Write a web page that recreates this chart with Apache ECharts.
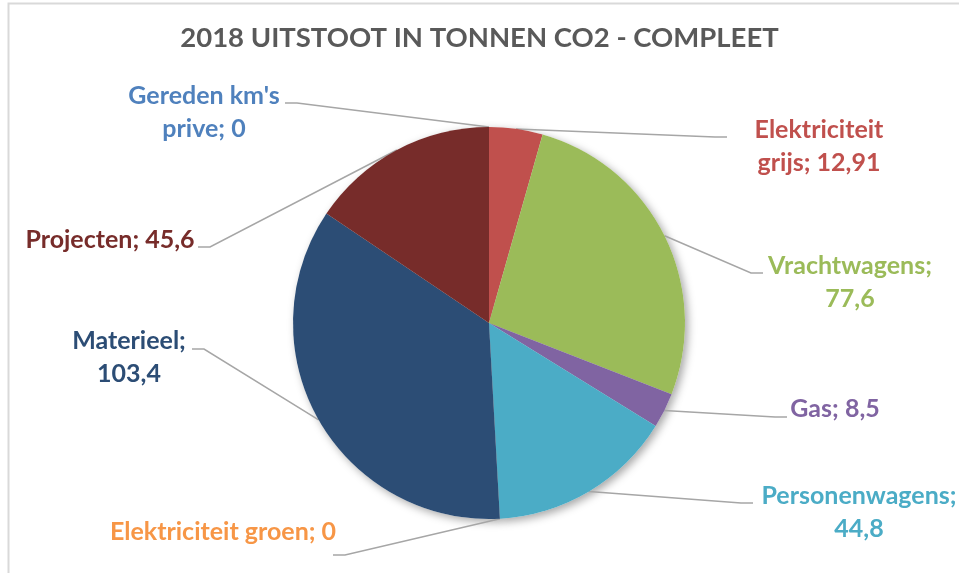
<!DOCTYPE html>
<html>
<head>
<meta charset="utf-8">
<script src="https://cdn.jsdelivr.net/npm/echarts@6/dist/echarts.min.js"></script>
<style>html,body{margin:0;padding:0;background:#fff}#c{width:959px;height:573px}</style>
</head>
<body>
<div id="c"></div>
<script>
// ---- data ----
const title = '2018 UITSTOOT IN TONNEN CO2 - COMPLEET';
const categories = ['Elektriciteit grijs', 'Vrachtwagens', 'Gas', 'Personenwagens', 'Elektriciteit groen', 'Materieel', 'Projecten', "Gereden km's prive"];
const values = [12.91, 77.6, 8.5, 44.8, 0, 103.4, 45.6, 0];
const colors = ['#C0504D', '#9BBB59', '#8064A2', '#4BACC6', '#F79646', '#2C4D75', '#772C2A', '#4F81BD'];
// words on the first label line (0 = single line)
const breakAfterWords = [1, 1, 0, 1, 0, 1, 0, 2];
// label layout (centre of text block) and leader-line end at the label
const labelPos = [[819, 146], [850, 282], [835, 409], [859, 512], [223, 532], [129, 357], [110, 240], [204, 112]];
const lineEnd = [[727, 137], [763, 273], [787, 417], [753, 503], [333, 555], [192, 349], [198, 247], [285, 103]];

const FONT = 'Lato';
const fmt = v => String(v).replace('.', ',');
function labelText(i) {
  const words = (categories[i] + '; ' + fmt(values[i])).split(' ');
  const n = breakAfterWords[i];
  if (!n) return words.join(' ');
  return words.slice(0, n).join(' ') + '\n' + words.slice(n).join(' ');
}

const data = categories.map((c, i) => ({
  name: c, value: values[i],
  itemStyle: { color: colors[i] },
  label: { color: colors[i] }
}));

const chart = echarts.init(document.getElementById('c'), null, { renderer: 'canvas' });
const CX = 489, CY = 323, R = 196;
chart.setOption({
  backgroundColor: '#fff',
  animation: false,
  title: {
    text: title, left: 'center', top: 24, padding: [0, 0, 0, 12],
    textStyle: { fontFamily: FONT, fontWeight: 'bold', fontSize: 27.5, color: '#595959' }
  },
  graphic: [{
    type: 'rect', silent: true, z: -1,
    shape: { x: 8.5, y: 3.5, width: 1000, height: 700 },
    style: { fill: 'none', stroke: '#D9D9D9', lineWidth: 2 }
  }],
  series: [
    {
      type: 'pie', silent: true, z: 1,
      center: [CX, CY], radius: R, startAngle: 90, clockwise: true,
      data: categories.map((c, i) => ({ name: c, value: values[i] })),
      label: { show: false }, labelLine: { show: false },
      itemStyle: { color: '#fff', shadowBlur: 8, shadowColor: 'rgba(0,0,0,0.35)', shadowOffsetX: 3, shadowOffsetY: 3 }
    },
    {
      type: 'pie', z: 2,
      center: [CX, CY], radius: R, startAngle: 90, clockwise: true,
      avoidLabelOverlap: false,
      data: data,
      itemStyle: { borderWidth: 0 },
      label: {
        show: true, position: 'outside',
        fontFamily: FONT, fontWeight: 'bold', fontSize: 25, lineHeight: 33,
        formatter: p => labelText(p.dataIndex)
      },
      labelLine: { show: true, length: 10, length2: 10, lineStyle: { color: '#A6A6A6', width: 1.5 } },
      labelLayout: function (p) {
        const i = p.dataIndex;
        const end = lineEnd[i];
        const dir = end[0] < CX ? 1 : -1;
        const elbow = [end[0] + dir * 12, end[1]];
        const start = (p.labelLinePoints && p.labelLinePoints[0]) ? p.labelLinePoints[0] : elbow;
        return {
          x: labelPos[i][0], y: labelPos[i][1],
          align: 'center', verticalAlign: 'middle',
          labelLinePoints: [start, elbow, end]
        };
      }
    }
  ]
});
</script>
</body>
</html>
